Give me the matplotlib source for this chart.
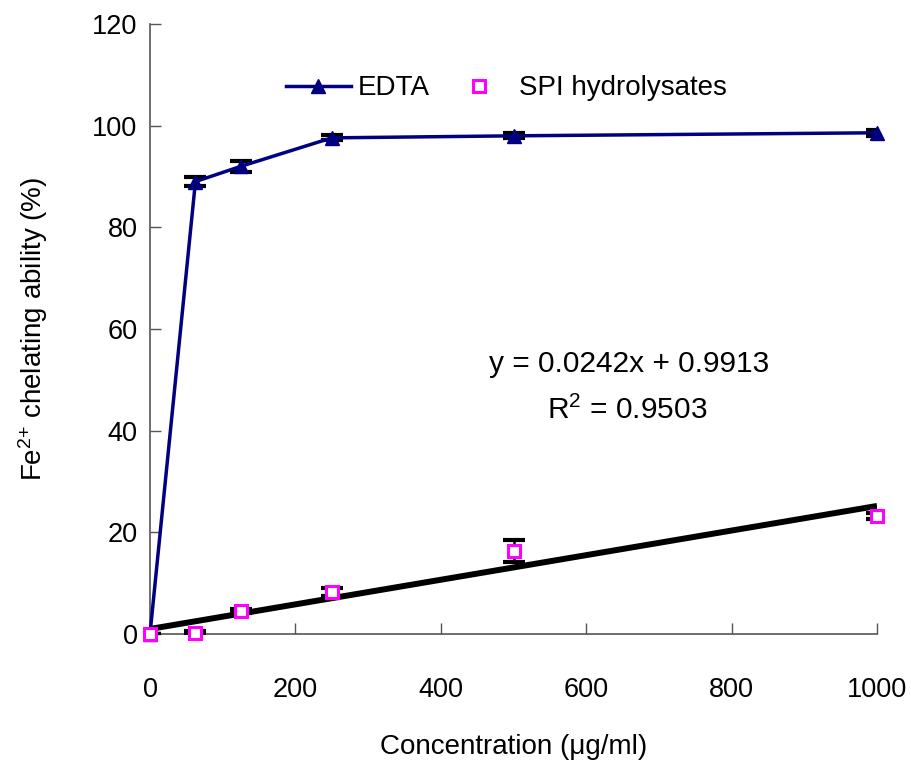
import matplotlib
matplotlib.use("Agg")
import numpy as np
import matplotlib.pyplot as plt

plt.rcParams['font.family'] = ['Liberation Sans', 'DejaVu Sans']
plt.rcParams['mathtext.fontset'] = 'custom'
plt.rcParams['mathtext.rm'] = 'Liberation Sans'
plt.rcParams['mathtext.it'] = 'Liberation Sans:italic'

# data
conc = [0, 62.5, 125, 250, 500, 1000]
edta = [0.0, 89.0, 92.0, 97.6, 98.0, 98.6]
edta_err = [0.0, 0.9, 1.1, 0.5, 0.5, 0.6]
spi = [0.0, 0.2, 4.5, 8.3, 16.3, 23.2]
spi_err = [0.0, 0.3, 0.4, 0.8, 2.2, 0.6]
slope, intercept = 0.0242, 0.9913
r2 = 0.9503
xticks = [0, 200, 400, 600, 800, 1000]
yticks = [0, 20, 40, 60, 80, 100, 120]

fig = plt.figure(figsize=(9.12, 7.61), dpi=100)
ax = fig.add_axes([150/912, 1-634/761, 727/912, 610/761])

# trend line for SPI hydrolysates
xfit = np.array([0, 1000])
ax.plot(xfit, slope*xfit + intercept, color="black", lw=4.3, zorder=2, solid_capstyle="butt")

ax.errorbar(conc, edta, yerr=edta_err, fmt="none", ecolor="black", elinewidth=1.8,
            capsize=8, capthick=3, zorder=3)
ax.plot(conc, edta, color="#000080", lw=2.5, marker="^", ms=9.5, mfc="#000080",
        mec="#000080", zorder=4, label="EDTA", clip_on=False)

ax.errorbar(conc, spi, yerr=spi_err, fmt="none", ecolor="black", elinewidth=1.8,
            capsize=8, capthick=3, zorder=3)
ax.plot(conc, spi, linestyle="none", marker="s", ms=8, mfc="white", mec="#ff00ff",
        mew=2.2, zorder=5, label="SPI hydrolysates", clip_on=False)

ax.set_xlim(0, 1000)
ax.set_ylim(0, 120)
ax.set_xticks(xticks)
ax.set_yticks(yticks)
ax.tick_params(direction="in", length=8, width=1, labelsize=19.5, colors="#555555",
               labelcolor="black")
ax.tick_params(axis="x", pad=31)
ax.tick_params(axis="y", pad=9)
for s in ["top", "right"]:
    ax.spines[s].set_visible(False)
for s in ["left", "bottom"]:
    ax.spines[s].set_color("#555555")
    ax.spines[s].set_linewidth(1.2)

ax.set_xlabel("Concentration (\u03bcg/ml)", fontsize=20, labelpad=22)
ax.set_ylabel("Fe$^{2{+}}$ chelating ability (%)", fontsize=20, labelpad=30)

ax.legend(loc="upper center", bbox_to_anchor=(0.49, 0.957),
          ncol=2, frameon=False, fontsize=20, handlelength=2.35, handletextpad=0.25,
          columnspacing=0.6)

ax.text(659, 53.1, "y = 0.0242x + 0.9913", fontsize=21.5, ha="center", va="center")
ax.text(656, 43.9, "R$^2$ = 0.9503", fontsize=21.5, ha="center", va="center")

fig.savefig("out.png", dpi=100)
